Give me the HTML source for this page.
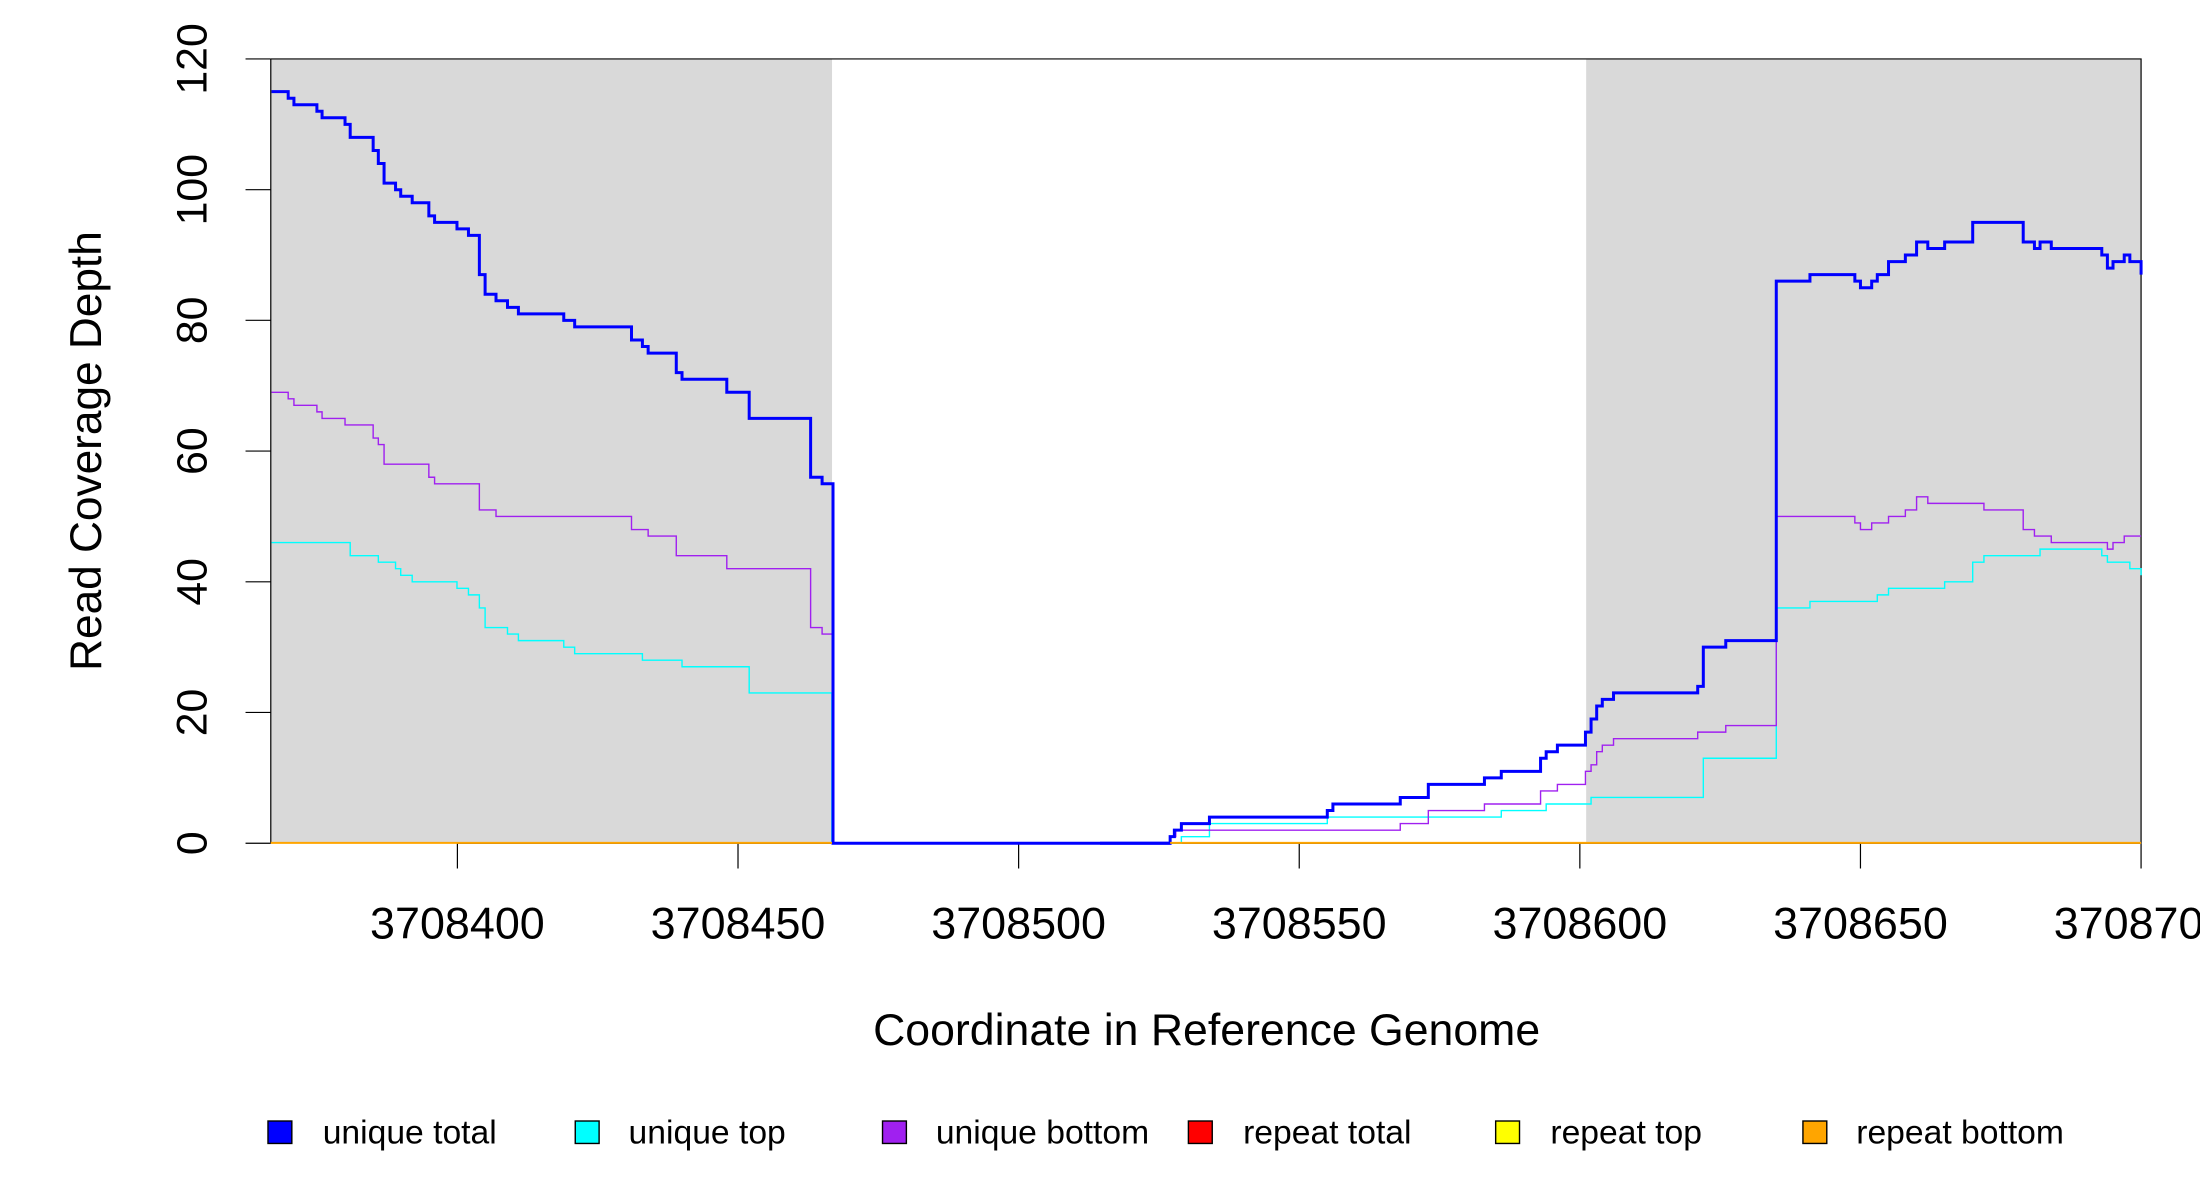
<!DOCTYPE html>
<html><head><meta charset="utf-8"><style>
html,body{margin:0;padding:0;background:#fff;overflow:hidden}
svg{display:block}
text{font-family:"Liberation Sans",Arial,sans-serif;fill:#000}
</style></head><body>
<svg width="2200" height="1200" viewBox="0 0 1568 855.3" preserveAspectRatio="none" xmlns="http://www.w3.org/2000/svg">
<rect x="193" y="42" width="400" height="559" fill="#d9d9d9"/>
<rect x="1130.5" y="42" width="395.5" height="559" fill="#d9d9d9"/>
<g stroke="#000" fill="none">
<path vector-effect="non-scaling-stroke" stroke-width="1.2" d="M193 42 H1526 V601 M193 42 V601"/>
<path vector-effect="non-scaling-stroke" stroke-width="1.2" d="M175 42 H193 M175 135.2 H193 M175 228.3 H193 M175 321.5 H193 M175 414.7 H193 M175 507.8 H193 M175 601 H193"/>
<path vector-effect="non-scaling-stroke" stroke-width="1.2" d="M326 601 H1526 M326 601 V619 M526 601 V619 M726 601 V619 M926 601 V619 M1126 601 V619 M1326 601 V619 M1526 601 V619"/>
</g>
<g fill="none" stroke-linejoin="miter">
<g transform="matrix(0.40917 0 0 -4.658 0 601)">
<path vector-effect="non-scaling-stroke" stroke="#00ffff" stroke-width="1.4" d="M473 46 H610 V44 H659 V43 H689 V42 H698 V41 H718 V40 H796 V39 H816 V38 H835 V36 H845 V33 H884 V32 H903 V31 H982 V30 H1001 V29 H1119 V28 H1188 V27 H1305 V23 H1449 V0 H2040"/>
<path vector-effect="non-scaling-stroke" stroke="#a020f0" stroke-width="1.4" d="M473 69 H502 V68 H512 V67 H552 V66 H561 V65 H601 V64 H650 V62 H659 V61 H669 V58 H747 V56 H757 V55 H835 V51 H864 V50 H1100 V48 H1129 V47 H1178 V44 H1266 V42 H1412 V33 H1432 V32 H1451 V0 H2040"/>
<path vector-effect="non-scaling-stroke" stroke="#0000ff" stroke-width="3" d="M473 115 H502 V114 H512 V113 H552 V112 H561 V111 H601 V110 H610 V108 H650 V106 H659 V104 H669 V101 H689 V100 H698 V99 H718 V98 H747 V96 H757 V95 H796 V94 H816 V93 H835 V87 H845 V84 H864 V83 H884 V82 H903 V81 H982 V80 H1001 V79 H1100 V77 H1119 V76 H1129 V75 H1178 V72 H1188 V71 H1266 V69 H1305 V65 H1412 V56 H1432 V55 H1451 V0 H2040"/>
</g>
<g transform="matrix(0.5 0 0 -4.658 784 601)">
<path vector-effect="non-scaling-stroke" stroke="#00ffff" stroke-width="1.4" d="M0 0 H116 V1 H156 V3 H324 V4 H572 V5 H636 V6 H700 V7 H860 V13 H964 V36 H1012 V37 H1108 V38 H1124 V39 H1204 V40 H1244 V43 H1260 V44 H1340 V45 H1428 V44 H1436 V43 H1468 V42 H1484 V41"/>
<path vector-effect="non-scaling-stroke" stroke="#a020f0" stroke-width="1.4" d="M0 0 H100 V1 H108 V2 H428 V3 H468 V5 H548 V6 H628 V8 H652 V9 H692 V11 H700 V12 H708 V14 H716 V15 H732 V16 H852 V17 H892 V18 H964 V50 H1076 V49 H1084 V48 H1100 V49 H1124 V50 H1148 V51 H1164 V53 H1180 V52 H1260 V51 H1316 V48 H1332 V47 H1356 V46 H1436 V45 H1444 V46 H1460 V47 H1484"/>
<path vector-effect="non-scaling-stroke" stroke="#0000ff" stroke-width="3" d="M0 0 H100 V1 H106 V2 H116 V3 H156 V4 H324 V5 H332 V6 H428 V7 H468 V9 H548 V10 H572 V11 H628 V13 H636 V14 H652 V15 H692 V17 H700 V19 H708 V21 H716 V22 H732 V23 H852 V24 H860 V30 H892 V31 H964 V86 H1012 V87 H1076 V86 H1084 V85 H1100 V86 H1108 V87 H1124 V89 H1148 V90 H1164 V92 H1180 V91 H1204 V92 H1244 V95 H1316 V92 H1332 V91 H1340 V92 H1356 V91 H1428 V90 H1436 V88 H1444 V89 H1460 V90 H1468 V89 H1484 V87"/>
</g>
<path vector-effect="non-scaling-stroke" stroke="#ffa500" stroke-width="2" d="M193 600.8 H593 M834 600.8 H1526"/>
</g>
<g font-size="30.5" text-anchor="middle">
<text transform="translate(147 601) rotate(-90)">0</text>
<text transform="translate(147 507.8) rotate(-90)">20</text>
<text transform="translate(147 414.7) rotate(-90)">40</text>
<text transform="translate(147 321.5) rotate(-90)">60</text>
<text transform="translate(147 228.3) rotate(-90)">80</text>
<text transform="translate(147 135.2) rotate(-90)">100</text>
<text transform="translate(147 42) rotate(-90)">120</text>
<text transform="translate(72 321.5) rotate(-90)" font-size="31.5">Read Coverage Depth</text>
</g>
<g font-size="32" text-anchor="middle">
<text x="326" y="669">3708400</text>
<text x="526" y="669">3708450</text>
<text x="726" y="669">3708500</text>
<text x="926" y="669">3708550</text>
<text x="1126" y="669">3708600</text>
<text x="1326" y="669">3708650</text>
<text x="1526" y="669">3708700</text>
<text x="860" y="745" font-size="31.8">Coordinate in Reference Genome</text>
</g>
<g stroke="#000" stroke-width="1">
<rect x="191" y="799" width="17" height="16" fill="#0000ff"/>
<rect x="410" y="799" width="17" height="16" fill="#00ffff"/>
<rect x="629" y="799" width="17" height="16" fill="#a020f0"/>
<rect x="847" y="799" width="17" height="16" fill="#ff0000"/>
<rect x="1066" y="799" width="17" height="16" fill="#ffff00"/>
<rect x="1285" y="799" width="17" height="16" fill="#ffa500"/>
</g>
<g font-size="24">
<text x="230" y="815">unique total</text>
<text x="448" y="815">unique top</text>
<text x="667" y="815">unique bottom</text>
<text x="886" y="815">repeat total</text>
<text x="1105" y="815">repeat top</text>
<text x="1323" y="815">repeat bottom</text>
</g>
</svg>
</body></html>
